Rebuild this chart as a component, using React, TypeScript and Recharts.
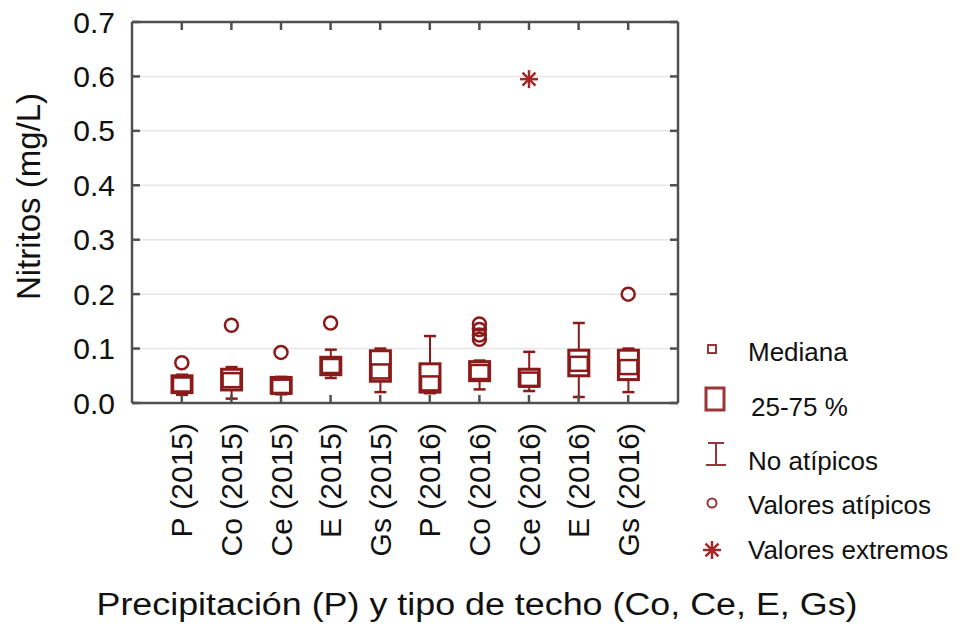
import React from 'react';
import { ComposedChart, Bar, Scatter, XAxis, YAxis, CartesianGrid, Legend, Label } from 'recharts';

const categories = ['P (2015)', 'Co (2015)', 'Ce (2015)', 'E (2015)', 'Gs (2015)', 'P (2016)', 'Co (2016)', 'Ce (2016)', 'E (2016)', 'Gs (2016)'];
const whiskerLow = [0.015, 0.008, 0.016, 0.046, 0.02, 0.018, 0.025, 0.022, 0.011, 0.02];
const q1 = [0.019, 0.024, 0.018, 0.052, 0.04, 0.02, 0.041, 0.031, 0.05, 0.043];
const medians = [0.034, 0.042, 0.03, 0.068, 0.058, 0.036, 0.057, 0.043, 0.072, 0.066];
const q3 = [0.05, 0.062, 0.047, 0.084, 0.096, 0.072, 0.076, 0.062, 0.097, 0.097];
const whiskerHigh = [0.052, 0.066, 0.048, 0.098, 0.1, 0.123, 0.078, 0.094, 0.147, 0.1];

const outlierCats = ['P (2015)', 'Co (2015)', 'Ce (2015)', 'E (2015)', 'Co (2016)', 'Co (2016)', 'Co (2016)', 'Co (2016)', 'Gs (2016)'];
const outlierValues = [0.074, 0.143, 0.093, 0.147, 0.145, 0.135, 0.125, 0.117, 0.2];

const extremeCats = ['Ce (2016)'];
const extremeValues = [0.595];

const yTicks = [0, 0.1, 0.2, 0.3, 0.4, 0.5, 0.6, 0.7];

const boxData = categories.map((cat, i) => ({
  cat,
  low: whiskerLow[i],
  q1: q1[i],
  median: medians[i],
  q3: q3[i],
  high: whiskerHigh[i],
}));
const outlierData = outlierCats.map((cat, i) => ({ cat, v: outlierValues[i] }));
const extremeData = extremeCats.map((cat, i) => ({ cat, v: extremeValues[i] }));

const RED = '#8b1a1a';
const AXIS = '#505050';
const FONT = '"Liberation Sans", Arial, sans-serif';

// whisker range comes in as the bar; box and median are placed along it
const BoxShape = (props: any) => {
  const { x, y, width, height, payload } = props;
  const { low, high } = payload;
  const top = Math.min(y, y + height);
  const h = Math.abs(height);
  const toPx = (v: number) => top + ((high - v) / (high - low)) * h;
  const cx = x + width / 2;
  const half = width / 2;
  const yMed = toPx(payload.median);
  return (
    <g stroke={RED} fill="none">
      <line x1={cx} x2={cx} y1={toPx(high)} y2={toPx(payload.q3)} strokeWidth={2} />
      <line x1={cx} x2={cx} y1={toPx(payload.q1)} y2={toPx(low)} strokeWidth={2} />
      <line x1={cx - 6} x2={cx + 6} y1={toPx(high)} y2={toPx(high)} strokeWidth={2.5} />
      <line x1={cx - 6} x2={cx + 6} y1={toPx(low)} y2={toPx(low)} strokeWidth={2.5} />
      <rect x={cx - half} y={toPx(payload.q3)} width={width} height={toPx(payload.q1) - toPx(payload.q3)} strokeWidth={3} fill="#fff" />
      <rect x={cx - half + 1} y={yMed - 7} width={width - 2} height={14} strokeWidth={2.5} />
    </g>
  );
};

const OutlierShape = (props: any) => (
  <circle cx={props.cx} cy={props.cy} r={6.5} fill="none" stroke={RED} strokeWidth={2.5} />
);

const ExtremeShape = (props: any) => {
  const { cx, cy } = props;
  const r = 9;
  const d = r * 0.72;
  return (
    <g stroke="#a32828" strokeWidth={2.5}>
      <line x1={cx - r} x2={cx + r} y1={cy} y2={cy} />
      <line x1={cx} x2={cx} y1={cy - r} y2={cy + r} />
      <line x1={cx - d} x2={cx + d} y1={cy - d} y2={cy + d} />
      <line x1={cx - d} x2={cx + d} y1={cy + d} y2={cy - d} />
    </g>
  );
};

// inward tick marks on every side of the frame
const BottomTick = (props: any) => {
  const { x, y, payload } = props;
  return (
    <g>
      <line x1={x} x2={x} y1={y} y2={y - 8} stroke={AXIS} strokeWidth={2.5} />
      <text transform={`translate(${x},${y + 20}) rotate(-90)`} textAnchor="end" dominantBaseline="central"
        fontSize={30} fill="#111" fontFamily={FONT}>{payload.value}</text>
    </g>
  );
};

const TopTick = (props: any) => (
  <line x1={props.x} x2={props.x} y1={props.y} y2={props.y + 8} stroke={AXIS} strokeWidth={2.5} />
);

const LeftTick = (props: any) => {
  const { x, y, payload } = props;
  return (
    <g>
      <line x1={x} x2={x + 8} y1={y} y2={y} stroke={AXIS} strokeWidth={2.5} />
      <text x={x - 17} y={y} textAnchor="end" dominantBaseline="central" fontSize={30} fill="#111" fontFamily={FONT}>
        {payload.value.toFixed(1)}
      </text>
    </g>
  );
};

const RightTick = (props: any) => (
  <line x1={props.x} x2={props.x - 8} y1={props.y} y2={props.y} stroke={AXIS} strokeWidth={2.5} />
);

const LegendBox = () => (
  <svg width={267} height={260} style={{ display: 'block' }}>
    <g fontFamily={FONT} fontSize={26} fill="#111" dominantBaseline="central">
      <text x={58} y={32}>Mediana</text>
      <text x={61} y={87}>25-75 %</text>
      <text x={58} y={141}>No atípicos</text>
      <text x={58} y={185}>Valores atípicos</text>
      <text x={58} y={230}>Valores extremos</text>
    </g>
    <g stroke="#9c3535" fill="none">
      <rect x={18} y={25} width={8} height={8} strokeWidth={2} />
      <rect x={16} y={68} width={18} height={22} strokeWidth={3} />
      <line x1={26} x2={26} y1={123} y2={145} strokeWidth={2} />
      <line x1={18} x2={34} y1={123} y2={123} strokeWidth={2} />
      <line x1={16} x2={36} y1={145} y2={145} strokeWidth={2} />
      <circle cx={22} cy={183} r={4.5} strokeWidth={2} />
    </g>
    <ExtremeShape cx={22} cy={230} />
  </svg>
);

// keeps the mirrored top axis fed with the same categories
const NoShape = () => null;

const App: React.FC = () => {
  return (
    <div style={{ position: 'absolute', left: 0, top: 0, fontFamily: FONT, background: '#fff' }}>
      <ComposedChart width={957} height={627} data={boxData} margin={{ top: 20, right: 0, bottom: 0, left: 0 }}>
        <CartesianGrid vertical={false} stroke="#e6e6e6" strokeWidth={1.5} />
        <XAxis dataKey="cat" type="category" allowDuplicatedCategory={false} height={224}
          padding={{ left: 25, right: 25 }} interval={0} tickSize={0} tickMargin={0}
          axisLine={{ stroke: AXIS, strokeWidth: 2.5 }} tickLine={false} tick={<BottomTick />}>
          <Label content={(p: any) => (
            <text x={p.viewBox.x + p.viewBox.width / 2 + 72} y={615} textAnchor="middle"
              fontSize={31} fill="#111" fontFamily={FONT} textLength={761} lengthAdjust="spacingAndGlyphs">
              Precipitación (P) y tipo de techo (Co, Ce, E, Gs)
            </text>
          )} />
        </XAxis>
        <XAxis xAxisId="top" dataKey="cat" type="category" orientation="top" allowDuplicatedCategory={false}
          height={2} padding={{ left: 25, right: 25 }} interval={0} tickSize={0} tickMargin={0}
          axisLine={{ stroke: AXIS, strokeWidth: 2.5 }} tickLine={false} tick={<TopTick />} />
        <YAxis domain={[0, 0.7]} ticks={yTicks} width={132} tickSize={0} tickMargin={0} interval={0}
          axisLine={{ stroke: AXIS, strokeWidth: 2.5 }} tickLine={false} tick={<LeftTick />}>
          <Label content={(p: any) => (
            <text transform={`translate(${p.viewBox.x + 28},${p.viewBox.y + p.viewBox.height / 2 - 16}) rotate(-90)`}
              textAnchor="middle" dominantBaseline="central" fontSize={33} fill="#111" fontFamily={FONT}>
              Nitritos (mg/L)
            </text>
          )} />
        </YAxis>
        <YAxis yAxisId="right" orientation="right" domain={[0, 0.7]} ticks={yTicks} width={279} tickSize={0}
          tickMargin={0} interval={0} axisLine={{ stroke: AXIS, strokeWidth: 2.5 }} tickLine={false} tick={<RightTick />} />
        <Bar xAxisId="top" yAxisId="right" dataKey="low" barSize={1} shape={<NoShape />} isAnimationActive={false} />
        <Bar dataKey={(d: any) => [d.low, d.high]} barSize={20} shape={<BoxShape />} isAnimationActive={false} />
        <Scatter data={outlierData} dataKey="v" shape={<OutlierShape />} isAnimationActive={false} />
        <Scatter data={extremeData} dataKey="v" shape={<ExtremeShape />} isAnimationActive={false} />
        <Legend layout="horizontal" verticalAlign="middle" align="center" content={<LegendBox />}
          wrapperStyle={{ left: 690, top: 320, width: 267, height: 260 }} />
      </ComposedChart>
    </div>
  );
};

export default App;
